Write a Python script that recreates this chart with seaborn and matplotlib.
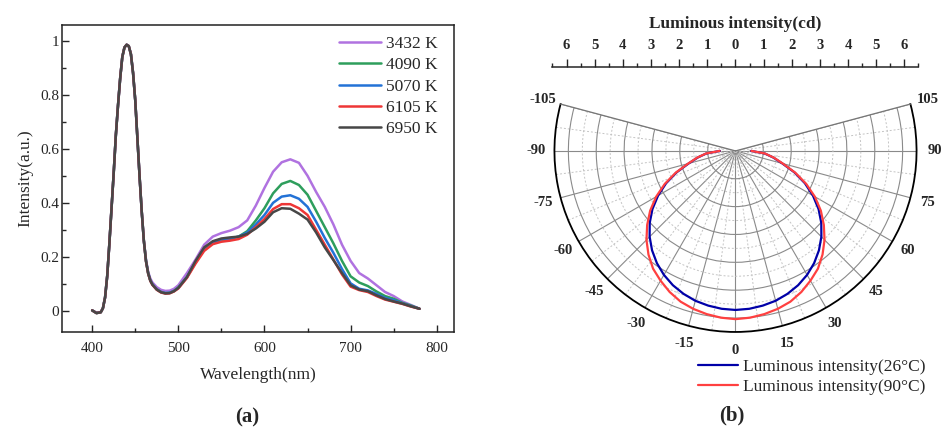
import numpy as np
import seaborn as sns
import matplotlib.pyplot as plt

sns.set_style("ticks")
plt.rcParams['font.family'] = ['Liberation Serif', 'DejaVu Serif']

# --- (a) emission spectra ---
wavelength = [400, 405, 410, 412.5, 415, 417.5, 420, 422.5, 425, 427.5, 430, 432.5, 435, 437.5,
              440, 442.5, 445, 447.5, 450, 452.5, 455, 457.5, 460, 462.5, 465, 467.5,
              470, 475, 480, 485, 490, 495, 500,
              510, 520, 530, 540, 550, 560, 570, 580, 590, 600, 610, 620, 630, 640,
              650, 660, 670, 680, 690, 700, 710, 720, 730, 740, 750, 760, 770, 780]
cct_labels = ['3432 K', '4090 K', '5070 K', '6105 K', '6950 K']
spec_3432 = [0.002, -0.006, -0.004, 0.01, 0.05, 0.13, 0.25, 0.38, 0.51, 0.65, 0.76, 0.86, 0.94, 0.975,
             0.985, 0.98, 0.95, 0.88, 0.78, 0.64, 0.50, 0.37, 0.26, 0.19, 0.145, 0.12,
             0.105, 0.088, 0.078, 0.074, 0.075, 0.082, 0.095,
             0.14, 0.19, 0.245, 0.275, 0.288, 0.297, 0.31, 0.335, 0.39, 0.455, 0.515, 0.55, 0.561, 0.548,
             0.50, 0.44, 0.385, 0.32, 0.245, 0.185, 0.14, 0.12, 0.095, 0.07, 0.055, 0.035, 0.022, 0.008]
spec_4090 = [0.002, -0.008, -0.005, 0.01, 0.05, 0.13, 0.25, 0.38, 0.51, 0.65, 0.76, 0.86, 0.94, 0.975,
             0.985, 0.98, 0.95, 0.88, 0.78, 0.64, 0.50, 0.37, 0.26, 0.185, 0.14, 0.113,
             0.098, 0.08, 0.07, 0.066, 0.067, 0.074, 0.087,
             0.125, 0.18, 0.228, 0.252, 0.262, 0.266, 0.275, 0.295, 0.335, 0.38, 0.435, 0.47, 0.481, 0.466,
             0.43, 0.37, 0.31, 0.25, 0.185, 0.128, 0.105, 0.092, 0.072, 0.055, 0.045, 0.03, 0.02, 0.008]
spec_5070 = [0.002, -0.008, -0.005, 0.01, 0.05, 0.13, 0.25, 0.38, 0.51, 0.65, 0.76, 0.86, 0.94, 0.975,
             0.985, 0.98, 0.95, 0.88, 0.78, 0.64, 0.50, 0.37, 0.26, 0.185, 0.14, 0.113,
             0.098, 0.08, 0.07, 0.066, 0.067, 0.074, 0.085,
             0.125, 0.18, 0.228, 0.255, 0.265, 0.268, 0.275, 0.29, 0.32, 0.355, 0.40, 0.423, 0.428, 0.415,
             0.385, 0.33, 0.27, 0.215, 0.155, 0.102, 0.082, 0.076, 0.063, 0.048, 0.04, 0.028, 0.018, 0.008]
spec_6105 = [0.002, -0.008, -0.005, 0.01, 0.05, 0.13, 0.25, 0.38, 0.51, 0.65, 0.76, 0.86, 0.94, 0.975,
             0.985, 0.98, 0.95, 0.88, 0.78, 0.64, 0.50, 0.37, 0.26, 0.183, 0.138, 0.111,
             0.096, 0.078, 0.068, 0.064, 0.065, 0.072, 0.083,
             0.122, 0.175, 0.222, 0.247, 0.256, 0.26, 0.266, 0.282, 0.31, 0.34, 0.377, 0.395, 0.395, 0.38,
             0.355, 0.30, 0.245, 0.19, 0.135, 0.09, 0.077, 0.07, 0.055, 0.042, 0.034, 0.026, 0.016, 0.008]
spec_6950 = [0.002, -0.008, -0.005, 0.01, 0.05, 0.13, 0.25, 0.38, 0.51, 0.65, 0.76, 0.86, 0.94, 0.975,
             0.985, 0.98, 0.95, 0.88, 0.78, 0.64, 0.50, 0.37, 0.26, 0.184, 0.139, 0.112,
             0.097, 0.079, 0.069, 0.065, 0.066, 0.073, 0.085,
             0.125, 0.185, 0.235, 0.258, 0.268, 0.272, 0.275, 0.285, 0.305, 0.33, 0.365, 0.38, 0.378, 0.36,
             0.338, 0.29, 0.235, 0.188, 0.14, 0.095, 0.079, 0.073, 0.058, 0.044, 0.035, 0.027, 0.017, 0.008]
spec_colors = ['#b072e0', '#2e9e5c', '#2372d6', '#ee3636', '#474747']

# --- (b) luminous intensity distribution ---
angle_deg = list(range(-90, 91, 5))
lum_26 = [0.56, 1.05, 1.38, 1.74, 2.25, 2.75, 3.21, 3.64, 4.02, 4.36, 4.66, 4.92, 5.14, 5.32, 5.46,
          5.57, 5.64, 5.69, 5.71,
          5.69, 5.64, 5.57, 5.46, 5.32, 5.14, 4.92, 4.66, 4.36, 4.02, 3.64, 3.21, 2.75, 2.25, 1.74,
          1.38, 1.05, 0.56]
lum_90 = [0.57, 1.06, 1.40, 1.76, 2.28, 2.80, 3.29, 3.74, 4.14, 4.52, 4.86, 5.16, 5.38, 5.59, 5.76,
          5.87, 5.95, 6.01, 6.04,
          6.01, 5.95, 5.87, 5.76, 5.59, 5.38, 5.16, 4.86, 4.52, 4.14, 3.74, 3.29, 2.80, 2.28, 1.76,
          1.40, 1.06, 0.57]
lum_labels = ['Luminous intensity(26°C)', 'Luminous intensity(90°C)']
lum_colors = ['#0000a8', '#ff4040']

W, H = 945, 432
fig = plt.figure(figsize=(9.45, 4.32), dpi=100)

# left panel
ax1 = fig.add_axes([62 / W, 1 - 332 / H, 392 / W, 307 / H])
for vals, lab, col in zip([spec_3432, spec_4090, spec_5070, spec_6105, spec_6950], cct_labels, spec_colors):
    sns.lineplot(x=wavelength, y=vals, color=col, label=lab, lw=1.8, ax=ax1)
ax1.set_xlim(365, 820)
ax1.set_ylim(-0.078, 1.058)
ax1.set_xticks([400, 500, 600, 700, 800])
ax1.set_xticks([450, 550, 650, 750], minor=True)
ax1.set_yticks([0, 0.2, 0.4, 0.6, 0.8, 1.0])
ax1.set_yticklabels(['0', '0.2', '0.4', '0.6', '0.8', '1'])
ax1.set_yticks([0.1, 0.3, 0.5, 0.7, 0.9], minor=True)
ax1.tick_params(which='major', direction='in', length=5, width=1, labelsize=11)
ax1.tick_params(which='minor', direction='in', length=3, width=1)
ax1.tick_params(axis='y', pad=2)
ax1.tick_params(axis='x', pad=7)
for s in ax1.spines.values():
    s.set_linewidth(1.1)
    s.set_color('#222222')
ax1.set_xlabel('Wavelength(nm)', fontsize=12.5, labelpad=9)
ax1.set_ylabel('Intensity(a.u.)', fontsize=12.5, labelpad=5)
ax1.legend(loc='upper right', bbox_to_anchor=(0.958, 0.965), frameon=False, fontsize=12.5,
           handlelength=2.4, handletextpad=0.3, labelspacing=0.3, borderpad=0, borderaxespad=0)

# right panel: polar plot (square box; the wedge is fitted into it)
axp = fig.add_axes([552.5 / W, 1 - 401 / H, 366 / W, 366 / H], projection='polar')
axp.set_theta_zero_location('S')
axp.set_theta_direction(1)
axp.set_thetamin(-105)
axp.set_thetamax(105)
theta = np.deg2rad(angle_deg)
for vals, lab, col in zip([lum_26, lum_90], lum_labels, lum_colors):
    sns.lineplot(x=theta, y=vals, color=col, label=lab, lw=1.6, ax=axp)
axp.set_ylim(0, 6.5)
axp.set_yticks([1, 2, 3, 4, 5, 6])
axp.set_yticks(np.arange(0.5, 6.5, 1), minor=True)
axp.set_yticklabels([])
ang_ticks = list(range(-105, 106, 15))
axp.set_xticks(np.deg2rad(ang_ticks))
axp.set_xticklabels([str(a) for a in ang_ticks], fontweight='bold', fontsize=10.5)
axp.set_xticks(np.deg2rad(np.arange(-97.5, 100, 15)), minor=True)
axp.grid(True, which='major', color='#8a8a8a', lw=0.8, ls='-')
axp.grid(True, which='minor', color='#c4c4c4', lw=0.7, ls=(0, (2, 2)))
axp.tick_params(axis='x', which='major', direction='in', length=6, width=1, pad=6)
axp.tick_params(axis='x', which='minor', direction='in', length=3, width=1)
axp.tick_params(axis='y', which='both', length=0)
axp.spines['polar'].set_color('black')
axp.spines['polar'].set_linewidth(1.3)
axp.spines['start'].set_color('#777777')
axp.spines['end'].set_color('#777777')
axp.spines['start'].set_linewidth(0.9)
axp.spines['end'].set_linewidth(0.9)
axp.spines['inner'].set_visible(False)
axp.legend(loc='upper left', bbox_to_anchor=(698 / W, 1 - 359 / H), bbox_transform=fig.transFigure,
           frameon=False, fontsize=12.5, handlelength=2.3, handletextpad=0.3, labelspacing=0.2,
           borderpad=0, borderaxespad=0)

# top scale of the polar plot
axt = fig.add_axes([552.5 / W, 1 - 67 / H, 366 / W, 0.0001])
axt.set_xlim(-6.5, 6.5)
axt.set_xticks(range(-6, 7))
axt.set_xticklabels([str(abs(v)) for v in range(-6, 7)], fontweight='bold', fontsize=10.5)
axt.set_xticks(np.arange(-6.5, 7, 1), minor=True)
axt.set_yticks([])
axt.xaxis.tick_top()
axt.xaxis.set_label_position('top')
axt.tick_params(axis='x', which='major', direction='out', length=6, width=1, pad=5)
axt.tick_params(axis='x', which='minor', direction='out', length=3, width=1)
for side in ['bottom', 'left', 'right']:
    axt.spines[side].set_visible(False)
axt.spines['top'].set_linewidth(1.1)
axt.patch.set_alpha(0)
axt.set_xlabel('Luminous intensity(cd)', fontweight='bold', fontsize=12.5, labelpad=8)

fig.text(247 / W, 1 - 417 / H, '(a)', ha='center', va='center', fontsize=15, fontweight='bold')
fig.text(732 / W, 1 - 415 / H, '(b)', ha='center', va='center', fontsize=15, fontweight='bold')

fig.savefig('out.png', dpi=100)
